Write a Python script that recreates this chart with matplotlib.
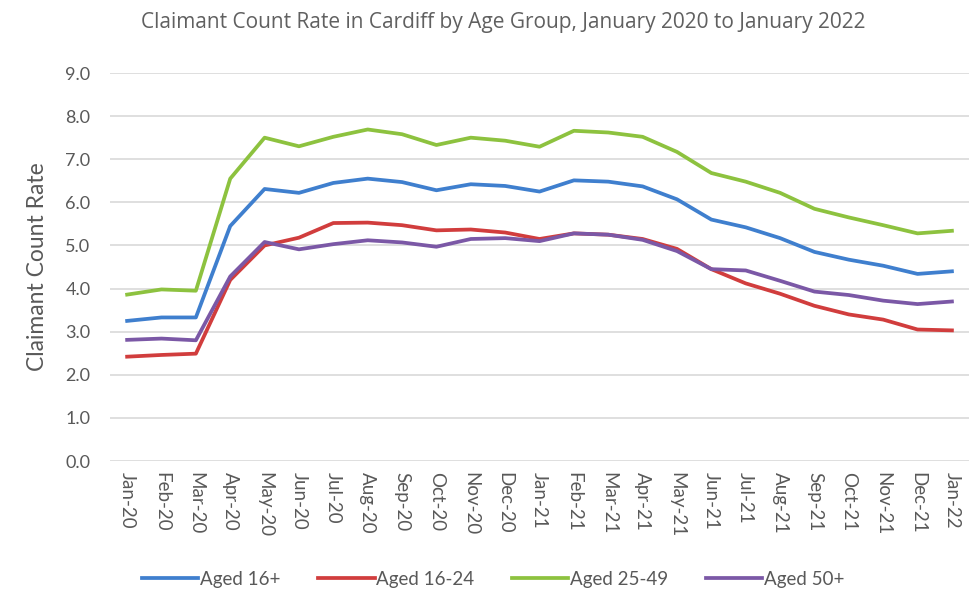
import matplotlib.pyplot as plt

months = ["Jan-20", "Feb-20", "Mar-20", "Apr-20", "May-20", "Jun-20", "Jul-20", "Aug-20",
          "Sep-20", "Oct-20", "Nov-20", "Dec-20", "Jan-21", "Feb-21", "Mar-21", "Apr-21",
          "May-21", "Jun-21", "Jul-21", "Aug-21", "Sep-21", "Oct-21", "Nov-21", "Dec-21", "Jan-22"]

aged_16_plus = [3.25, 3.33, 3.33, 5.45, 6.31, 6.22, 6.45, 6.55, 6.47, 6.28, 6.42, 6.38, 6.25,
                6.51, 6.48, 6.37, 6.07, 5.60, 5.42, 5.17, 4.85, 4.67, 4.53, 4.34, 4.40]
aged_16_24 = [2.42, 2.46, 2.49, 4.20, 5.00, 5.18, 5.52, 5.53, 5.47, 5.35, 5.37, 5.30, 5.15,
              5.28, 5.25, 5.15, 4.92, 4.45, 4.12, 3.88, 3.60, 3.40, 3.28, 3.05, 3.03]
aged_25_49 = [3.86, 3.98, 3.95, 6.55, 7.50, 7.30, 7.52, 7.69, 7.58, 7.33, 7.50, 7.43, 7.29,
              7.66, 7.62, 7.52, 7.17, 6.68, 6.48, 6.22, 5.85, 5.65, 5.47, 5.28, 5.34]
aged_50_plus = [2.81, 2.84, 2.80, 4.28, 5.08, 4.91, 5.03, 5.12, 5.07, 4.97, 5.15, 5.17, 5.10,
                5.28, 5.25, 5.13, 4.87, 4.45, 4.42, 4.18, 3.93, 3.85, 3.72, 3.64, 3.70]

series = [("Aged 16+", aged_16_plus, "#3f7fce"),
          ("Aged 16-24", aged_16_24, "#d13d3d"),
          ("Aged 25-49", aged_25_49, "#8dc23f"),
          ("Aged 50+", aged_50_plus, "#7b58a6")]

plt.rcParams['font.family'] = ['Lato', 'DejaVu Sans']
grey = "#595959"

fig = plt.figure(figsize=(9.73, 5.96), dpi=100)
ax = fig.add_axes([0.113, 0.2265, 0.883, 0.651])

x = list(range(len(months)))
for name, vals, col in series:
    ax.plot(x, vals, color=col, linewidth=2.7, label=name, solid_joinstyle='round')

ax.set_xlim(-0.5, len(months) - 0.5)
ax.set_ylim(0, 9)
ax.set_yticks(range(0, 10))
ax.set_yticklabels([f"{v:.1f}" for v in range(0, 10)], color=grey, fontsize=13)
ax.set_xticks(x)
ax.set_xticklabels(months, rotation=-90, color=grey, fontsize=13.5)
ax.tick_params(axis='y', length=0, pad=14)
ax.tick_params(axis='x', length=0, pad=8)
ax.yaxis.grid(True, color="#d9d9d9", linewidth=1.2)
ax.set_axisbelow(True)
for s in ax.spines.values():
    s.set_visible(False)

ax.set_ylabel("Claimant Count Rate", color=grey, fontsize=16.5)
ax.yaxis.set_label_coords(-0.072, 0.5)

fig.text(0.5175, 0.962, "Claimant Count Rate in Cardiff by Age Group, January 2020 to January 2022",
         ha='center', va='center', fontsize=15, color="#606060", family='Open Sans')

fig.legend(loc='center', bbox_to_anchor=(0.507, 0.028), ncol=4, frameon=False,
           fontsize=13.5, handlelength=3.0, handletextpad=0.1, columnspacing=2.0,
           labelcolor=grey)

fig.savefig("out.png", dpi=100)
